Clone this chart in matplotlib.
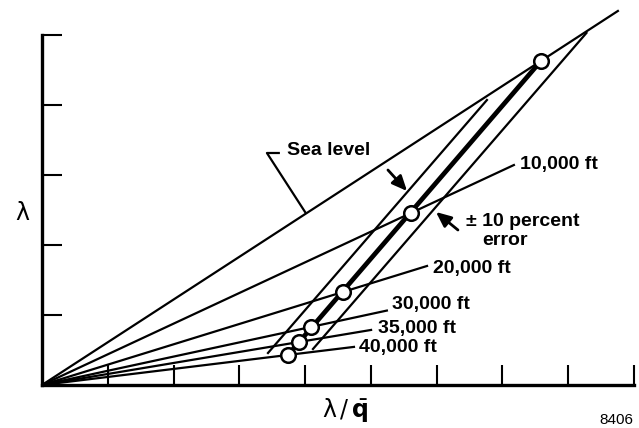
import matplotlib
matplotlib.use("Agg")
import matplotlib.pyplot as plt
import numpy as np

plt.rcParams['font.family'] = ['Liberation Sans', 'DejaVu Sans']
plt.rcParams['mathtext.fontset'] = 'dejavusans'

# altitude lines, each from the origin through its calibration point
altitudes = ["Sea level", "10,000 ft", "20,000 ft", "30,000 ft", "35,000 ft", "40,000 ft"]
point_x = [7.586, 5.610, 4.576, 4.089, 3.907, 3.740]   # lambda/q
point_y = [4.629, 2.457, 1.329, 0.829, 0.614, 0.429]   # lambda
line_end_x = [8.77, 7.19, 5.87, 5.26, 5.02, 4.76]

# +/-10 percent error band around the calibration line
band_lo_x = [3.436, 6.765]
band_lo_y = [0.457, 4.071]
band_hi_x = [4.120, 8.278]
band_hi_y = [0.514, 5.029]

fig = plt.figure(figsize=(6.39, 4.28), dpi=100)
ax = fig.add_axes([0.0657, 0.1005, 0.9264, 0.8178])

lw = 1.6
for px, py, xe in zip(point_x, point_y, line_end_x):
    slope = py / px
    ax.plot([0, xe], [0, slope * xe], color='black', lw=lw, clip_on=False, solid_capstyle='butt')

ax.plot(band_lo_x, band_lo_y, color='black', lw=lw, clip_on=False)
ax.plot(band_hi_x, band_hi_y, color='black', lw=lw, clip_on=False)

# calibration line through the points
ax.plot([point_x[-1], point_x[0]], [point_y[-1], point_y[0]], color='black', lw=3.4, clip_on=False)
ax.plot(point_x, point_y, 'o', ms=10.5, mfc='white', mec='black', mew=1.8, clip_on=False, zorder=5)

fs = 14
# altitude labels
ax.plot([4.0, 3.42, 3.60], [2.471, 3.314, 3.314], color='black', lw=lw)
ax.text(3.72, 3.343, altitudes[0], fontsize=fs, fontweight='bold', va='center', ha='left')
ax.text(7.27, 3.143, altitudes[1], fontsize=fs, fontweight='bold', va='center', ha='left')
ax.text(5.944, 1.671, altitudes[2], fontsize=fs, fontweight='bold', va='center', ha='left')
ax.text(5.32, 1.143, altitudes[3], fontsize=fs, fontweight='bold', va='center', ha='left')
ax.text(5.108, 0.814, altitudes[4], fontsize=fs, fontweight='bold', va='center', ha='left')
ax.text(4.82, 0.529, altitudes[5], fontsize=fs, fontweight='bold', va='center', ha='left')

ax.text(6.446, 2.329, "\u00b1 10 percent", fontsize=fs, fontweight='bold', va='center', ha='left')
ax.text(6.69, 2.071, "error", fontsize=fs, fontweight='bold', va='center', ha='left')

arrow = dict(arrowstyle='-|>,head_length=0.9,head_width=0.4', color='black', lw=2.0,
             shrinkA=0, shrinkB=0)
ax.annotate("", xy=(5.55, 2.771), xytext=(5.26, 3.071), arrowprops=arrow)
ax.annotate("", xy=(5.99, 2.471), xytext=(6.324, 2.214), arrowprops=arrow)

ax.set_xlim(0, 9)
ax.set_ylim(0, 5)
ax.set_xticks(np.arange(1, 10))
ax.set_yticks(np.arange(1, 6))
ax.set_xticklabels([])
ax.set_yticklabels([])
ax.tick_params(direction='in', length=14.5, width=1.5, color='black')
for side in ['top', 'right']:
    ax.spines[side].set_visible(False)
for side in ['left', 'bottom']:
    ax.spines[side].set_linewidth(2.4)

fig.text(22 / 639, 1 - 213 / 428, "\u03bb", family='DejaVu Sans', fontsize=17, ha='center', va='center')
fig.text(345 / 639, 1 - 410 / 428, "\u03bb" + r'$\,/\,\bar{\mathbf{q}}$', family='DejaVu Sans',
         fontsize=17, ha='center', va='center')
fig.text(616 / 639, 1 - 420 / 428, "8406", fontsize=11, ha='center', va='center')

fig.savefig("out.png", dpi=100)
